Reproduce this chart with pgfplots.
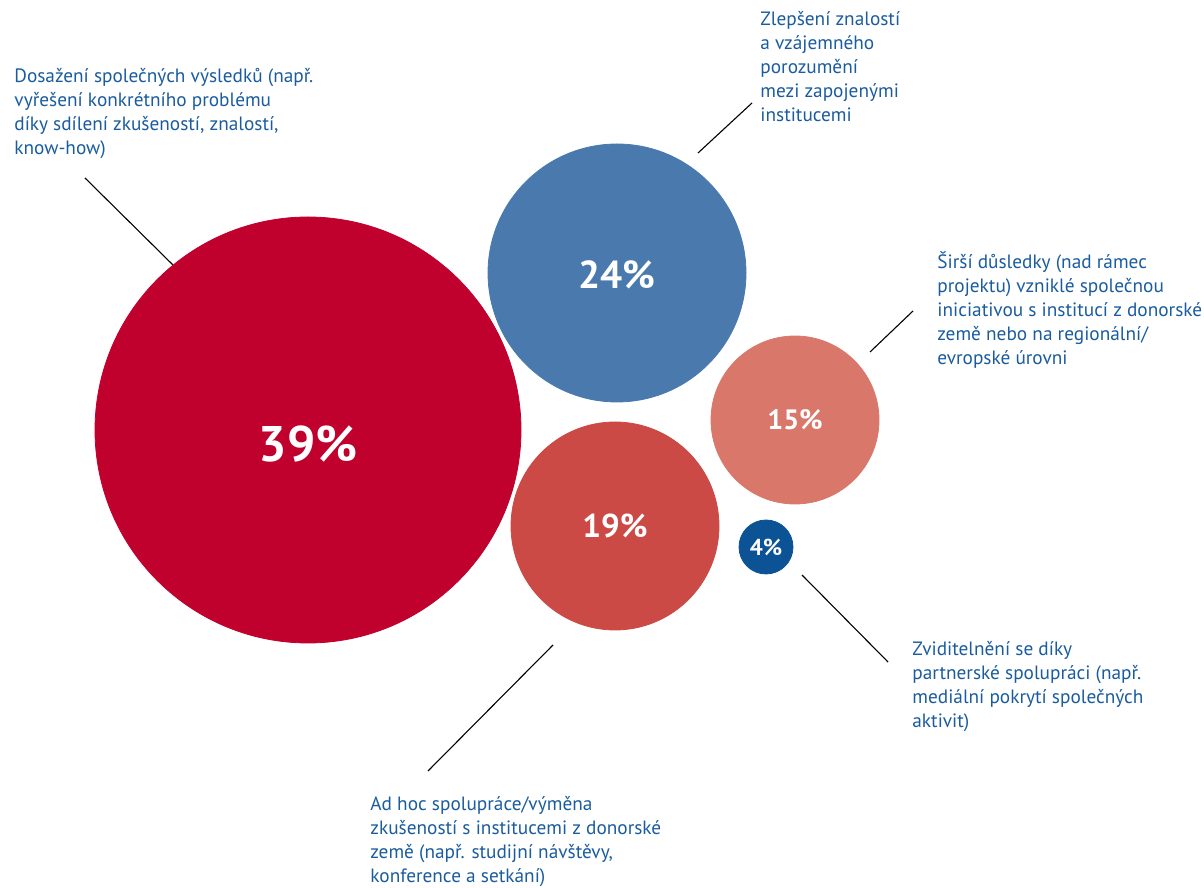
\documentclass[border=0pt]{standalone}
\usepackage{pgfplots}
\pgfplotsset{compat=1.18}
\usepackage{fontspec}
\setmainfont{PT Sans}
\definecolor{cA}{HTML}{C0002D}
\definecolor{cB}{HTML}{4A7AAD}
\definecolor{cC}{HTML}{DA776B}
\definecolor{cD}{HTML}{CC4A45}
\definecolor{cE}{HTML}{0B5394}
\definecolor{tc}{HTML}{1A5C9E}
\begin{document}
\begin{tikzpicture}
\pgfplotsset{bub/.style 2 args={only marks, mark=*, color=#1, mark options={draw=none, fill=#1},
  nodes near coords={#2}, every node near coord/.append style={anchor=center, text=white, inner sep=0pt}}}
\begin{axis}[name=ax, scale only axis, width=602pt, height=444pt,
  xmin=0, xmax=1204, ymin=0, ymax=888, hide axis, clip=false]
% leader lines
\addplot[black, line width=0.55pt] coordinates {(85,710) (173,623)};
\addplot[black, line width=0.55pt] coordinates {(698,735) (752,785)};
\addplot[black, line width=0.55pt] coordinates {(870,536) (913,577)};
\addplot[black, line width=0.55pt] coordinates {(802,313) (888,226)};
\addplot[black, line width=0.55pt] coordinates {(553,243) (428,117)};
% bubbles (x, y, radius in px -> mark size = r*0.5pt)
\addplot[bub={cA}{39\%}, mark size=106.5pt, every node near coord/.append style={yshift=-7pt, font=\bfseries\fontsize{25}{30}\selectfont}] coordinates {(308,458)};
\addplot[bub={cB}{24\%}, mark size=64.5pt, every node near coord/.append style={yshift=-1pt, font=\bfseries\fontsize{19.5}{24}\selectfont}] coordinates {(617,615)};
\addplot[bub={cC}{15\%}, mark size=42pt, every node near coord/.append style={font=\bfseries\fontsize{14}{17}\selectfont}] coordinates {(795,468)};
\addplot[bub={cD}{19\%}, mark size=52pt, every node near coord/.append style={font=\bfseries\fontsize{16.5}{20}\selectfont}] coordinates {(615,362)};
\addplot[bub={cE}{4\%}, mark size=13.5pt, every node near coord/.append style={font=\bfseries\fontsize{11.5}{14}\selectfont}] coordinates {(766,341)};
% descriptions (anchor = baseline of the last line)
\tikzset{desc/.style={anchor=base west, align=left, text=tc, inner sep=0pt, font=\fontsize{9.65}{12}\selectfont}}
\node[desc] at (axis cs:14,733) {Dosažení společných výsledků (např.\\vyřešení konkrétního problému\\díky sdílení zkušeností, znalostí,\\know-how)};
\node[desc] at (axis cs:760,766) {Zlepšení znalostí\\a vzájemného\\porozumění\\mezi zapojenými\\institucemi};
\node[desc] at (axis cs:937,523) {Širší důsledky (nad rámec\\projektu) vzniklé společnou\\iniciativou s institucí z donorské\\země nebo na regionální/\\evropské úrovni};
\node[desc] at (axis cs:912,160) {Zviditelnění se díky\\partnerské spolupráci (např.\\mediální pokrytí společných\\aktivit)};
\node[desc] at (axis cs:370,5) {Ad hoc spolupráce/výměna\\zkušeností s institucemi z donorské\\země (např. studijní návštěvy,\\konference a setkání)};
\end{axis}
\pgfresetboundingbox
\path[use as bounding box] (ax.south west) rectangle (ax.north east);
\end{tikzpicture}
\end{document}
